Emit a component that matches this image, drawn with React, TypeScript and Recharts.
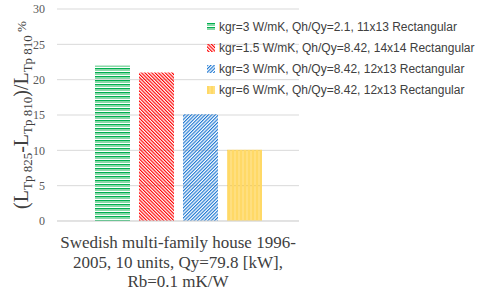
import React from 'react';
import { BarChart, Bar, XAxis, YAxis, CartesianGrid, Legend } from 'recharts';

const categoryLines = ['Swedish multi-family house 1996-', '2005, 10 units, Qy=79.8 [kW],', 'Rb=0.1 mK/W'];
const seriesKeys = ['s1', 's2', 's3', 's4'];
const seriesNames = [
  'kgr=3 W/mK, Qh/Qy=2.1, 11x13 Rectangular',
  'kgr=1.5 W/mK, Qh/Qy=8.42, 14x14 Rectangular',
  'kgr=3 W/mK, Qh/Qy=8.42, 12x13 Rectangular',
  'kgr=6 W/mK, Qh/Qy=8.42, 12x13 Rectangular',
];
const seriesValues = [22, 21, 15.1, 10.1];
const yTicks = [0, 5, 10, 15, 20, 25, 30];
const patternIds = ['patGreen', 'patRed', 'patBlue', 'patYellow'];

const data = [
  seriesKeys.reduce(
    (row: any, k, i) => {
      row[k] = seriesValues[i];
      return row;
    },
    { name: categoryLines.join(' ') }
  ),
];

const Patterns = ({ prefix }: { prefix: string }) => (
  <defs>
    <pattern id={prefix + 'patGreen'} patternUnits="userSpaceOnUse" width="4" height="4">
      <rect x="0" y="0" width="4" height="1" fill="#00B050" />
      <rect x="0" y="1" width="4" height="2" fill="#8AD8A8" />
    </pattern>
    <pattern id={prefix + 'patRed'} patternUnits="userSpaceOnUse" width="2.4" height="4" patternTransform="rotate(-45)">
      <rect x="0" y="0" width="1.15" height="4" fill="#FF0000" />
    </pattern>
    <pattern id={prefix + 'patBlue'} patternUnits="userSpaceOnUse" width="2.4" height="4" patternTransform="rotate(45)">
      <rect x="0" y="0" width="1.15" height="4" fill="#1E78D2" />
    </pattern>
    <pattern id={prefix + 'patYellow'} patternUnits="userSpaceOnUse" width="4" height="4">
      <rect x="0" y="0" width="2" height="4" fill="#FFD966" />
      <rect x="2.5" y="0" width="1" height="4" fill="#FFC000" />
    </pattern>
  </defs>
);

const LegendContent = () => (
  <div style={{ fontFamily: '"Liberation Sans", Arial, sans-serif', fontSize: 12, color: '#404040' }}>
    {seriesNames.map((n, i) => (
      <div key={n} style={{ height: 21, lineHeight: '21px', display: 'flex', alignItems: 'center', whiteSpace: 'nowrap' }}>
        <svg width={8} height={8} style={{ marginLeft: 2, marginRight: 4 }}>
          <Patterns prefix="lg" />
          <rect x={0} y={0} width={8} height={8} fill={`url(#lg${patternIds[i]})`} />
        </svg>
        <span>{n}</span>
      </div>
    ))}
  </div>
);

const XTick = (props: any) => {
  const { x, y } = props;
  return (
    <text
      x={x}
      y={y}
      textAnchor="middle"
      fill="#404040"
      style={{ fontFamily: '"Liberation Serif", serif', fontSize: 17 }}
    >
      {categoryLines.map((l, i) => (
        <tspan key={i} x={x} y={y + 27 + i * 19.5}>
          {l}
        </tspan>
      ))}
    </text>
  );
};

const YLabel = (props: any) => {
  const { viewBox } = props;
  const cy = viewBox.y + viewBox.height / 2;
  const bx = 28;
  const sub = { fontSize: 13 } as any;
  return (
    <text
      x={bx}
      y={cy}
      transform={`rotate(-90, ${bx}, ${cy})`}
      textAnchor="middle"
      fill="#404040"
      style={{ fontFamily: '"Liberation Serif", serif', fontSize: 20 }}
    >
      <tspan>(L</tspan>
      <tspan dy={4} style={sub}>Tp 825</tspan>
      <tspan dy={-4}>-L</tspan>
      <tspan dy={4} style={sub}>Tp 810</tspan>
      <tspan dy={-4}>)/L</tspan>
      <tspan dy={4} style={sub}>Tp 810</tspan>
      <tspan dy={-6} style={sub}> %</tspan>
    </text>
  );
};

export default function App() {
  return (
    <div style={{ position: 'absolute', left: 0, top: 0, width: 480, height: 294, background: '#fff' }}>
      <BarChart
        width={480}
        height={294}
        data={data}
        margin={{ top: 9, right: 181, bottom: 0, left: 0 }}
        barCategoryGap="15.7%"
        barGap={9}
      >
        <Patterns prefix="" />
        <CartesianGrid vertical={false} stroke="#D9D9D9" />
        <XAxis
          dataKey="name"
          height={73}
          tickLine={false}
          tickSize={0}
          tickMargin={0}
          axisLine={{ stroke: '#D9D9D9' }}
          tick={<XTick />}
          interval={0}
        />
        <YAxis
          width={57}
          domain={[0, 30]}
          ticks={yTicks}
          tickLine={false}
          axisLine={false}
          tickSize={0}
          tickMargin={12}
          tick={{ fill: '#595959', fontSize: 12, fontFamily: '"Liberation Serif", serif' }}
          label={<YLabel />}
        />
        <Legend
          layout="horizontal"
          verticalAlign="middle"
          align="center"
          content={<LegendContent />}
          wrapperStyle={{ position: 'absolute', left: 205, top: 16.5, width: 275, height: 84 }}
        />
        {seriesKeys.map((k, i) => (
          <Bar key={k} dataKey={k} name={seriesNames[i]} fill={`url(#${patternIds[i]})`} isAnimationActive={false} />
        ))}
      </BarChart>
    </div>
  );
}
